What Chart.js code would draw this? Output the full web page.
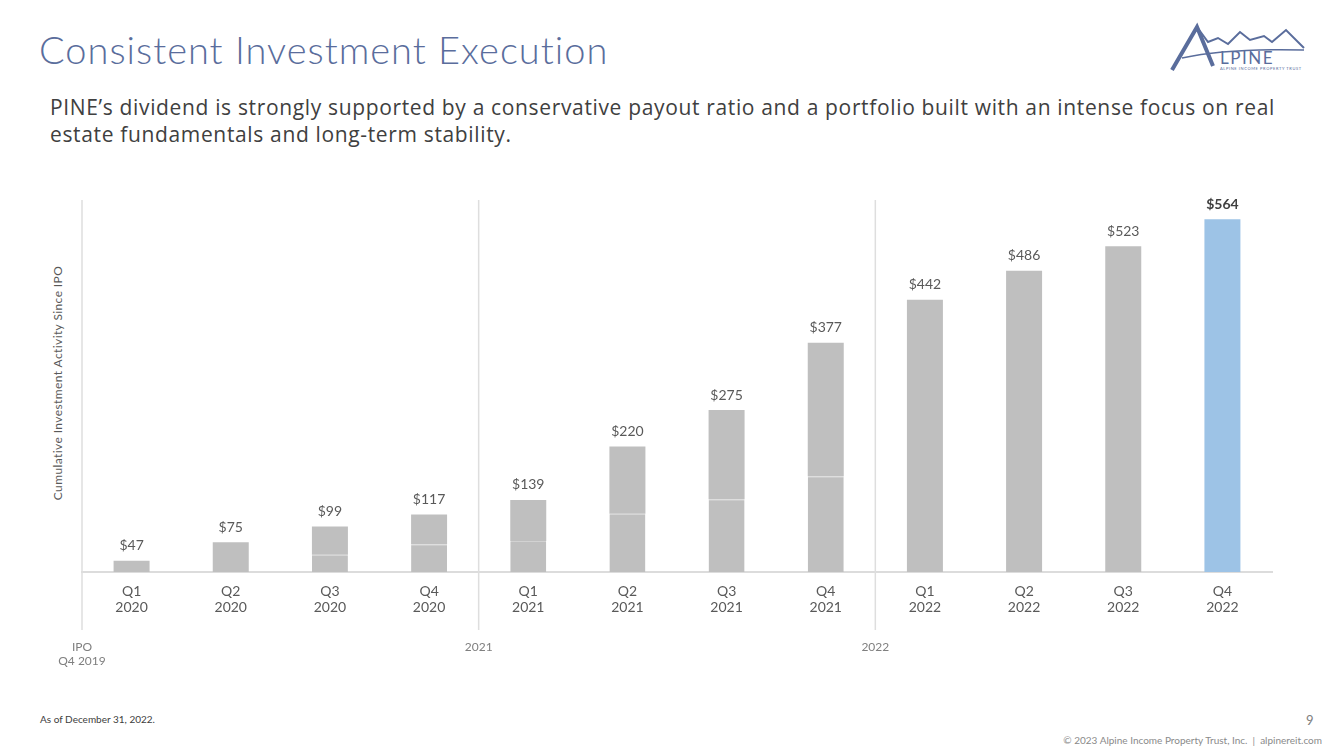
<!DOCTYPE html>
<html>
<head>
<meta charset="utf-8">
<script src="https://cdn.jsdelivr.net/npm/chart.js@4.4.0/dist/chart.umd.min.js"></script>
<style>
  html, body { margin: 0; padding: 0; background: #fff; }
  body { width: 1333px; height: 749px; position: relative; overflow: hidden; font-family: Lato, "Open Sans", sans-serif; }
  #chart { position: absolute; left: 0; top: 0; }
  .title { position: absolute; left: 39px; top: 26px; font-size: 38px; font-weight: 300; color: #5a6d9c; letter-spacing: 1px; }
  .subtitle { position: absolute; left: 50px; top: 94px; font-family: "Open Sans", sans-serif; font-size: 21px; line-height: 27px; color: #404040; letter-spacing: 0.65px; white-space: nowrap; }
  .ytitle { position: absolute; left: 57px; top: 383px; transform: translate(-50%, -50%) rotate(-90deg); font-size: 12px; color: #595959; white-space: nowrap; letter-spacing: 0.4px; }
  .note { position: absolute; left: 40px; top: 713px; font-size: 10px; color: #404040; }
  .page { position: absolute; left: 1306px; top: 712px; font-size: 13px; color: #808080; }
  .copy { position: absolute; right: 11px; top: 734px; font-size: 10px; color: #8a8a8a; }
  .logo { position: absolute; left: 1168px; top: 22px; }
</style>
</head>
<body>
<div class="title">Consistent Investment Execution</div>
<div class="subtitle">PINE’s dividend is strongly supported by a conservative payout ratio and a portfolio built with an intense focus on real<br>estate fundamentals and long-term stability.</div>
<div class="ytitle">Cumulative Investment Activity Since IPO</div>
<div class="note">As of December 31, 2022.</div>
<div class="page">9</div>
<div class="copy">© 2023 Alpine Income Property Trust, Inc.&nbsp; |&nbsp; alpinereit.com</div>

<svg class="logo" width="140" height="56" viewBox="0 0 140 56">
  <g fill="none" stroke="#5a6d9c" stroke-linejoin="miter">
    <path d="M4 48 L29 5 L45 44" stroke-width="4"/>
    <path d="M29 5 L40 20 L50 16 L60 22 L72 10 L82 18 L96 14 L104 20 L118 8 L136 26" stroke-width="2"/>
    <path d="M14 36 Q60 26 136 28" stroke-width="1.5"/>
  </g>
  <text x="52" y="42" font-family="Lato, sans-serif" font-size="17" fill="#5a6d9c" letter-spacing="1.5">LPINE</text>
  <text x="52" y="48" font-family="Lato, sans-serif" font-size="4" fill="#5a6d9c" letter-spacing="0.6">ALPINE INCOME PROPERTY TRUST</text>
</svg>

<canvas id="chart" width="1333" height="749"></canvas>

<script>
// Cumulative investment activity since IPO ($ millions)
const quarters = ['Q1', 'Q2', 'Q3', 'Q4', 'Q1', 'Q2', 'Q3', 'Q4', 'Q1', 'Q2', 'Q3', 'Q4'];
const years = ['2020', '2020', '2020', '2020', '2021', '2021', '2021', '2021', '2022', '2022', '2022', '2022'];
const totals = [47, 75, 99, 117, 139, 220, 275, 377, 442, 486, 523, 564];
// faint inner segment line visible inside some bars
const innerSegment = [null, null, 56, 72, 77, 118, 140, 175, null, null, null, null];
const groupLabels = [['IPO', 'Q4 2019'], ['2021'], ['2022']];
const groupStarts = [0, 4, 8];

const gray = '#bfbfbf';
const blue = '#9dc3e6';
const lastIndex = totals.length - 1;

const labels = quarters.map((q, i) => [q, years[i]]);
const lowerData = innerSegment;
const upperData = totals.map((t, i) => innerSegment[i] === null ? t : t - innerSegment[i]);
const barColors = totals.map((t, i) => i === lastIndex ? blue : gray);

// separators, group labels and value labels
const decorations = {
    id: 'decorations',
    beforeDatasetsDraw(chart) {
        const { ctx, chartArea, scales: { x } } = chart;
        const half = (x.getPixelForValue(1) - x.getPixelForValue(0)) / 2;
        ctx.save();
        ctx.strokeStyle = '#dedede';
        ctx.lineWidth = 1.5;
        groupStarts.forEach(idx => {
            const px = x.getPixelForValue(idx) - half;
            ctx.beginPath();
            ctx.moveTo(px, chartArea.top);
            ctx.lineTo(px, 630);
            ctx.stroke();
        });
        ctx.restore();
    },
    afterDatasetsDraw(chart) {
        const { ctx, scales: { x, y } } = chart;
        const half = (x.getPixelForValue(1) - x.getPixelForValue(0)) / 2;
        ctx.save();
        ctx.textAlign = 'center';
        ctx.textBaseline = 'middle';

        totals.forEach((t, i) => {
            const px = x.getPixelForValue(i);
            const py = y.getPixelForValue(t) - 15;
            if (i === lastIndex) {
                ctx.font = 'bold 14px Lato, sans-serif';
                ctx.fillStyle = '#404040';
            } else {
                ctx.font = '14px Lato, sans-serif';
                ctx.fillStyle = '#595959';
            }
            ctx.fillText('$' + t, px, py);
        });

        ctx.font = '12px Lato, sans-serif';
        ctx.fillStyle = '#7f7f7f';
        groupStarts.forEach((idx, g) => {
            const px = x.getPixelForValue(idx) - half;
            groupLabels[g].forEach((line, k) => {
                ctx.fillText(line, px, 647 + k * 14);
            });
        });
        ctx.restore();
    }
};

new Chart(document.getElementById('chart'), {
    type: 'bar',
    data: {
        labels: labels,
        datasets: [
            {
                label: 'Inner',
                data: lowerData,
                backgroundColor: gray,
                borderColor: '#d2d2d2',
                borderWidth: { top: 1, left: 0, right: 0, bottom: 0 },
                borderSkipped: false,
                barPercentage: 0.363,
                categoryPercentage: 1.0
            },
            {
                label: 'Cumulative Investment',
                data: upperData,
                backgroundColor: barColors,
                borderWidth: 0,
                barPercentage: 0.363,
                categoryPercentage: 1.0
            }
        ]
    },
    options: {
        responsive: false,
        animation: false,
        devicePixelRatio: 1,
        layout: {
            padding: { left: 82, right: 61, top: 200, bottom: 117 }
        },
        scales: {
            x: {
                stacked: true,
                grid: { display: false, drawTicks: false },
                border: { display: true, color: '#dcdcdc', width: 2 },
                ticks: {
                    color: '#595959',
                    font: { family: 'Lato, sans-serif', size: 14, lineHeight: 1.15 },
                    padding: 11,
                    maxRotation: 0,
                    autoSkip: false
                },
                afterFit: (scale) => { scale.height = 60; }
            },
            y: {
                stacked: true,
                display: false,
                min: 30,
                max: 593
            }
        },
        plugins: {
            legend: { display: false },
            tooltip: { enabled: false }
        }
    },
    plugins: [decorations]
});
</script>
</body>
</html>
